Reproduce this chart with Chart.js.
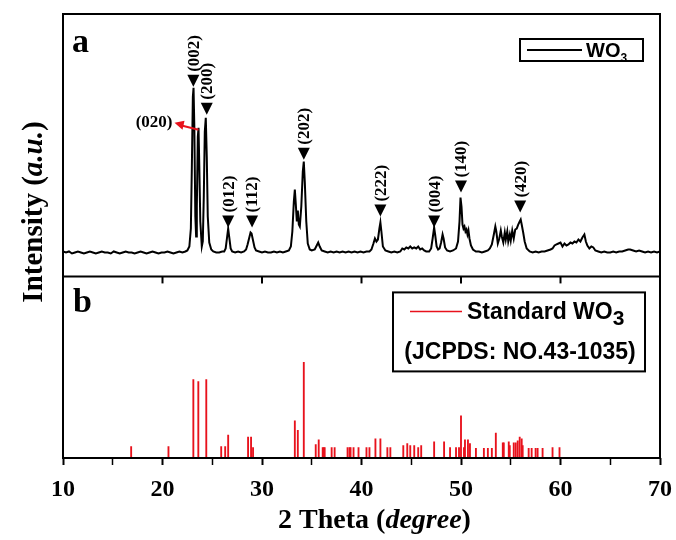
<!DOCTYPE html>
<html>
<head>
<meta charset="utf-8">
<title>XRD WO3</title>
<script src="https://cdn.jsdelivr.net/npm/chart.js@4.4.1/dist/chart.umd.min.js"></script>
<style>
  body { margin: 0; background: #fff; }
  #wrap { width: 676px; height: 540px; }
</style>
</head>
<body>
<div id="wrap"><canvas id="xrd" width="676" height="540"></canvas></div>
<script>
// measured pattern: [2 theta (deg), intensity (a.u.)]
var xrdScan = [
  [10.0,25],[10.3,24],[10.6,25],[10.9,23],[11.2,24],[11.5,25],[11.8,24],[12.1,23],[12.4,24],[12.7,25],
  [13.0,24],[13.3,23],[13.6,24],[13.9,25],[14.2,24],[14.5,24],[14.8,23],[15.1,25],[15.4,24],[15.7,23],
  [16.0,24],[16.3,25],[16.6,24],[16.9,24],[17.2,23],[17.5,24],[17.8,25],[18.1,24],[18.4,23],[18.7,24],
  [19.0,25],[19.3,24],[19.6,23],[19.9,24],[20.2,24],[20.5,25],[20.8,24],[21.1,23],[21.4,24],[21.7,25],
  [22.0,24],[22.3,25],[22.5,26],[22.7,30],[22.85,48],[22.95,110],[23.05,180],[23.12,189],[23.2,150],[23.3,60],
  [23.38,40],[23.45,70],[23.55,140],[23.62,149],[23.7,110],[23.8,55],[23.95,30],[24.05,35],[24.15,80],[24.25,145],
  [24.35,159],[24.45,120],[24.55,60],[24.7,34],[24.9,27],[25.1,25],[25.4,24],[25.7,24],[26.0,25],[26.2,25],
  [26.35,28],[26.5,40],[26.6,48],[26.7,40],[26.85,28],[27.0,25],[27.3,24],[27.6,25],[27.9,24],[28.2,25],
  [28.4,27],[28.55,32],[28.7,38],[28.85,44],[28.95,43],[29.1,36],[29.25,29],[29.4,26],[29.7,25],[30.0,24],
  [30.3,25],[30.6,24],[30.9,24],[31.2,25],[31.5,24],[31.8,25],[32.1,24],[32.4,25],[32.7,26],[32.9,30],
  [33.05,45],[33.2,75],[33.3,87],[33.4,72],[33.5,55],[33.6,66],[33.7,52],[33.8,50],[33.95,70],[34.1,105],
  [34.2,115],[34.3,95],[34.45,55],[34.6,33],[34.8,27],[35.0,26],[35.3,27],[35.5,31],[35.65,34],[35.8,30],
  [36.0,26],[36.3,25],[36.6,24],[36.9,25],[37.2,24],[37.5,25],[37.8,24],[38.1,25],[38.4,24],[38.7,25],
  [39.0,24],[39.3,25],[39.6,24],[39.9,25],[40.2,24],[40.5,25],[40.8,25],[41.0,27],[41.2,33],[41.35,38],
  [41.5,35],[41.65,37],[41.8,48],[41.9,54],[42.0,45],[42.15,30],[42.4,26],[42.7,25],[43.0,24],[43.3,25],
  [43.6,24],[43.9,25],[44.1,28],[44.3,27],[44.5,29],[44.7,28],[44.9,30],[45.1,28],[45.3,29],[45.5,28],
  [45.7,30],[45.9,27],[46.1,28],[46.3,26],[46.5,25],[46.8,25],[47.0,28],[47.15,38],[47.3,49],[47.4,42],
  [47.55,30],[47.7,27],[47.85,28],[48.0,34],[48.15,42],[48.25,38],[48.4,29],[48.6,26],[48.9,25],[49.2,26],
  [49.5,28],[49.7,35],[49.85,55],[49.95,79],[50.05,70],[50.15,52],[50.25,48],[50.35,50],[50.45,45],[50.55,47],
  [50.65,42],[50.75,46],[50.85,38],[51.0,31],[51.2,27],[51.5,25],[51.8,25],[52.1,24],[52.4,25],[52.7,26],
  [52.9,28],[53.1,32],[53.3,42],[53.45,50],[53.55,45],[53.7,33],[53.85,38],[54.0,46],[54.1,40],[54.25,34],
  [54.4,44],[54.5,37],[54.65,45],[54.75,35],[54.9,42],[55.0,36],[55.15,46],[55.3,38],[55.45,47],[55.6,48],
  [55.75,52],[55.9,55],[56.0,57],[56.1,52],[56.25,44],[56.4,35],[56.6,28],[56.9,25],[57.2,24],[57.5,25],
  [57.8,24],[58.1,25],[58.4,25],[58.7,26],[59.0,27],[59.2,28],[59.4,31],[59.6,32],[59.8,33],[60.0,34],
  [60.2,30],[60.4,33],[60.6,31],[60.8,32],[61.0,34],[61.2,33],[61.4,35],[61.6,34],[61.8,37],[62.0,35],
  [62.2,39],[62.4,42],[62.55,35],[62.7,31],[62.9,28],[63.1,30],[63.3,29],[63.5,26],[63.8,25],[64.1,24],
  [64.4,25],[64.7,24],[65.0,24],[65.3,25],[65.6,24],[65.9,25],[66.2,25],[66.5,26],[66.8,27],[67.0,27],
  [67.3,26],[67.6,25],[67.9,26],[68.2,25],[68.5,24],[68.8,25],[69.1,24],[69.4,25],[69.7,24],[70.0,25]
];

// JCPDS 43-1035 reference lines: [2 theta, relative intensity]
var jcpdsLines = [
  [16.85,12],[20.6,12],[23.1,82],[23.6,80],[24.4,82],[25.9,12],[26.3,12],[26.6,24],[28.6,22],[28.9,22],
  [29.1,11],[33.3,39],[33.6,29],[34.2,100],[35.4,14],[35.7,19],[36.1,11],[36.2,11],[36.3,11],[37.0,11],
  [37.3,11],[38.6,11],[38.8,11],[38.9,11],[39.2,11],[39.7,11],[40.5,11],[40.8,11],[41.4,20],[41.9,20],
  [42.6,11],[42.9,11],[44.2,13],[44.6,15],[44.9,13],[45.3,13],[45.7,11],[46.0,13],[47.3,17],[48.3,17],
  [48.9,11],[49.5,11],[49.8,11],[50.0,44],[50.3,11],[50.4,19],[50.7,19],[50.9,15],[51.5,10],[52.3,10],
  [52.7,10],[53.1,10],[53.5,26],[54.2,16],[54.3,16],[54.8,17],[54.9,13],[55.3,16],[55.5,16],[55.7,18],
  [55.9,22],[56.1,20],[56.2,13],[56.8,10],[57.1,10],[57.5,10],[57.7,10],[58.2,10],[59.2,11],[59.9,11]
];

// indexed peaks of panel a
var hklLabels = ['(002)', '(200)', '(012)', '(112)', '(202)', '(222)', '(004)', '(140)', '(420)'];
var hklTheta = [23.1, 24.45, 26.6, 29.0, 34.2, 41.9, 47.3, 50.0, 55.95];
var hklTop = [190, 162, 49, 49, 117, 60, 49, 84, 64];
var arrowPeak = [23.62, 149, '(020)'];

var xTicks = [10, 20, 30, 40, 50, 60, 70];

var serif = '"Liberation Serif", "Times New Roman", serif';
var sans = '"Liberation Sans", Arial, sans-serif';

function runsWidth(ctx, runs) {
  var w = 0;
  runs.forEach(function(r) { ctx.font = r[1]; w += ctx.measureText(r[0]).width; });
  return w;
}
function drawRuns(ctx, runs, x, y) {
  var cx = x;
  runs.forEach(function(r) {
    ctx.font = r[1];
    ctx.fillText(r[0], cx, y + (r[2] || 0));
    cx += ctx.measureText(r[0]).width;
  });
  return cx;
}

var panelDeco = {
  id: 'panelDeco',
  afterDatasetsDraw: function(chart) {
    var ctx = chart.ctx, a = chart.chartArea;
    var xs = chart.scales.x, yA = chart.scales.yA, yB = chart.scales.yB;
    ctx.save();
    ctx.strokeStyle = '#000';
    ctx.lineWidth = 2;
    ctx.strokeRect(a.left, a.top, a.right - a.left, a.bottom - a.top);
    ctx.beginPath();
    ctx.moveTo(a.left, yB.top);
    ctx.lineTo(a.right, yB.top);
    ctx.stroke();
    // ticks hanging into panel b
    xTicks.forEach(function(t) {
      if (t === xs.min || t === xs.max) return;
      var px = xs.getPixelForValue(t);
      ctx.beginPath();
      ctx.moveTo(px, yB.top);
      ctx.lineTo(px, yB.top + 7);
      ctx.stroke();
    });

    // peak markers + hkl labels
    ctx.fillStyle = '#000';
    ctx.font = 'bold 17px ' + serif;
    hklLabels.forEach(function(lab, i) {
      var px = xs.getPixelForValue(hklTheta[i]);
      var py = yA.getPixelForValue(hklTop[i]);
      ctx.beginPath();
      ctx.moveTo(px, py);
      ctx.lineTo(px - 6, py - 12);
      ctx.lineTo(px + 6, py - 12);
      ctx.closePath();
      ctx.fill();
      ctx.save();
      ctx.translate(px, py - 15);
      ctx.rotate(-Math.PI / 2);
      ctx.textAlign = 'left';
      ctx.textBaseline = 'middle';
      ctx.fillText(lab, 0, 1);
      ctx.restore();
    });

    // (020) with red arrow
    var ax = xs.getPixelForValue(arrowPeak[0]);
    var ay = yA.getPixelForValue(arrowPeak[1]);
    ctx.strokeStyle = '#e8121c';
    ctx.fillStyle = '#e8121c';
    ctx.lineWidth = 2;
    ctx.beginPath();
    ctx.moveTo(ax, ay + 2);
    ctx.lineTo(ax - 16, ay - 2);
    ctx.stroke();
    ctx.beginPath();
    ctx.moveTo(ax - 24, ay - 5);
    ctx.lineTo(ax - 14, ay - 7);
    ctx.lineTo(ax - 16, ay + 2);
    ctx.closePath();
    ctx.fill();
    ctx.fillStyle = '#000';
    ctx.textAlign = 'right';
    ctx.textBaseline = 'middle';
    ctx.font = 'bold 17px ' + serif;
    ctx.fillText(arrowPeak[2], ax - 26, ay - 5);

    // panel letters
    ctx.textAlign = 'left';
    ctx.textBaseline = 'alphabetic';
    ctx.font = 'bold 34px ' + serif;
    ctx.fillText('a', a.left + 9, a.top + 38);
    ctx.fillText('b', a.left + 10, yB.top + 36);

    // legend panel a
    ctx.lineWidth = 2;
    ctx.strokeStyle = '#000';
    ctx.strokeRect(a.right - 140, a.top + 25, 123, 22);
    ctx.beginPath();
    ctx.moveTo(a.right - 133, a.top + 36);
    ctx.lineTo(a.right - 78, a.top + 36);
    ctx.stroke();
    drawRuns(ctx, [['WO', 'bold 20px ' + sans], ['3', 'bold 12px ' + sans, 5]], a.right - 74, a.top + 43);

    // legend panel b
    ctx.strokeRect(a.right - 267, yB.top + 16, 252, 79);
    ctx.strokeStyle = '#e8121c';
    ctx.lineWidth = 1.5;
    ctx.beginPath();
    ctx.moveTo(a.right - 250, yB.top + 35);
    ctx.lineTo(a.right - 198, yB.top + 35);
    ctx.stroke();
    ctx.fillStyle = '#000';
    drawRuns(ctx, [['Standard WO', 'bold 23px ' + sans], ['3', 'bold 21px ' + sans, 6]], a.right - 193, yB.top + 43);
    ctx.font = 'bold 23px ' + sans;
    ctx.textAlign = 'center';
    ctx.fillText('(JCPDS: NO.43-1035)', a.right - 140, yB.top + 83);
    ctx.restore();
  },
  afterDraw: function(chart) {
    var ctx = chart.ctx, a = chart.chartArea;
    ctx.save();
    ctx.fillStyle = '#000';
    ctx.textAlign = 'left';
    ctx.textBaseline = 'alphabetic';
    var title = [['2 Theta (', 'bold 28px ' + serif], ['degree', 'italic bold 28px ' + serif], [')', 'bold 28px ' + serif]];
    var tw = runsWidth(ctx, title);
    drawRuns(ctx, title, (a.left + a.right) / 2 + 13 - tw / 2, 528);

    var ylab = [['Intensity (', 'bold 29px ' + serif], ['a.u.', 'italic bold 29px ' + serif], [')', 'bold 29px ' + serif]];
    var yw = runsWidth(ctx, ylab);
    ctx.translate(32, 212);
    ctx.rotate(-Math.PI / 2);
    drawRuns(ctx, ylab, -yw / 2, 10);
    ctx.restore();
  }
};

new Chart(document.getElementById('xrd'), {
  type: 'line',
  data: {
    datasets: [{
      label: 'WO3',
      data: xrdScan.map(function(p) { return { x: p[0], y: p[1] }; }),
      xAxisID: 'x',
      yAxisID: 'yA',
      borderColor: '#000',
      borderWidth: 2,
      pointRadius: 0,
      tension: 0
    }, {
      type: 'bar',
      label: 'Standard WO3',
      data: jcpdsLines.map(function(p) { return { x: p[0], y: p[1] }; }),
      xAxisID: 'x',
      yAxisID: 'yB',
      backgroundColor: '#e8121c',
      barThickness: 1.2,
      grouped: false
    }]
  },
  options: {
    responsive: false,
    animation: false,
    layout: { padding: { left: 63, right: 16, top: 14, bottom: 0 } },
    plugins: { legend: { display: false }, tooltip: { enabled: false } },
    scales: {
      x: {
        type: 'linear',
        position: 'bottom',
        offset: false,
        min: 10,
        max: 70,
        ticks: {
          stepSize: 5,
          autoSkip: false,
          maxRotation: 0,
          color: '#000',
          padding: 10,
          font: { family: serif, size: 24, weight: 'bold' },
          callback: function(v) { return v % 10 === 0 ? v : ''; }
        },
        grid: {
          offset: false,
          drawOnChartArea: false,
          tickLength: 7,
          tickColor: '#000',
          tickWidth: function(c) { return c.tick && c.tick.value % 10 === 0 ? 2 : 1.5; }
        },
        border: { display: false },
        afterFit: function(s) {
          s.height = 82;
          s.paddingLeft = 0;
          s.paddingRight = 0;
        }
      },
      yB: {
        type: 'linear',
        position: 'left',
        stack: 'xrd',
        stackWeight: 182,
        min: 0,
        max: 190,
        ticks: { display: false },
        grid: { display: false },
        border: { display: false },
        afterFit: function(s) { s.width = 0; }
      },
      yA: {
        type: 'linear',
        position: 'left',
        stack: 'xrd',
        stackWeight: 263,
        weight: 1,
        min: 0,
        max: 263,
        ticks: { display: false },
        grid: { display: false },
        border: { display: false },
        afterFit: function(s) { s.width = 0; }
      }
    }
  },
  plugins: [panelDeco]
});
</script>
</body>
</html>
